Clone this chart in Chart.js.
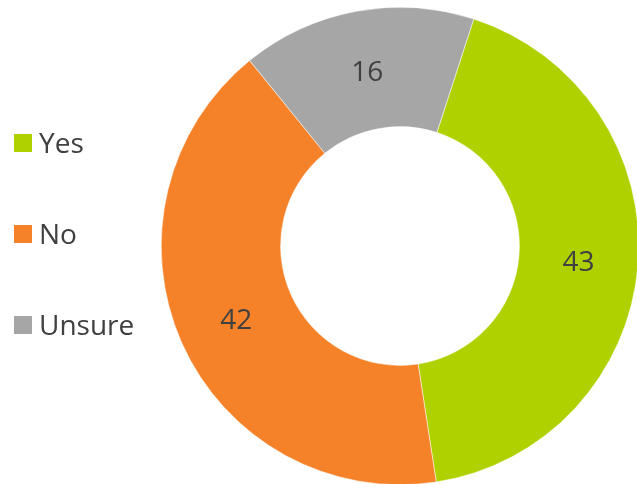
<!DOCTYPE html>
<html>
<head>
<meta charset="utf-8">
<script src="https://cdn.jsdelivr.net/npm/chart.js@4.4.1/dist/chart.umd.min.js"></script>
<style>
  html, body { margin: 0; padding: 0; background: #fff; overflow: hidden; }
  #wrap { position: relative; width: 637px; height: 484px; overflow: hidden; }
  #box { position: absolute; left: 0; top: 0; width: 641px; height: 487px; }
  #legend { position: absolute; left: 14px; top: 96px; margin: 0; padding: 0; list-style: none;
            font-family: "Open Sans", sans-serif; font-size: 28px; color: #404040; }
  #legend li { height: 91px; display: flex; align-items: center; }
  #legend span.sw { display: inline-block; width: 18px; height: 18px; margin-right: 7px; margin-top: 2px; }
</style>
</head>
<body>
<div id="wrap">
  <div id="box"><canvas id="pie"></canvas></div>
  <ul id="legend"></ul>
</div>
<script>
// datos del gráfico
const labels = ['Yes', 'No', 'Unsure'];
const values = [43, 42, 16];
const colors = ['#B0D100', '#F58229', '#A6A6A6'];

// etiquetas con el valor en el centro de cada sector
const valueLabels = {
  id: 'valueLabels',
  afterDatasetsDraw(chart) {
    const ctx = chart.ctx;
    const meta = chart.getDatasetMeta(0);
    ctx.save();
    ctx.font = '28px "Open Sans", sans-serif';
    ctx.fillStyle = '#404040';
    ctx.textAlign = 'center';
    ctx.textBaseline = 'middle';
    meta.data.forEach((arc, i) => {
      const p = arc.tooltipPosition();
      ctx.fillText(chart.data.datasets[0].data[i], p.x, p.y + 3);
    });
    ctx.restore();
  }
};

const ctx = document.getElementById('pie').getContext('2d');
const chart = new Chart(ctx, {
  type: 'doughnut',
  data: {
    labels: labels,
    datasets: [{
      data: values,
      backgroundColor: colors,
      borderColor: '#ffffff',
      borderWidth: 0.5
    }]
  },
  options: {
    responsive: true,
    maintainAspectRatio: false,
    animation: false,
    rotation: 18,
    cutout: '50%',
    layout: { padding: { left: 161, top: 7, right: 2, bottom: 2 } },
    plugins: {
      legend: { display: false },
      tooltip: { enabled: false }
    }
  },
  plugins: [valueLabels]
});

// leyenda en HTML
const ul = document.getElementById('legend');
chart.data.labels.forEach((lab, i) => {
  const li = document.createElement('li');
  const sw = document.createElement('span');
  sw.className = 'sw';
  sw.style.background = chart.data.datasets[0].backgroundColor[i];
  li.appendChild(sw);
  li.appendChild(document.createTextNode(lab));
  ul.appendChild(li);
});
</script>
</body>
</html>
